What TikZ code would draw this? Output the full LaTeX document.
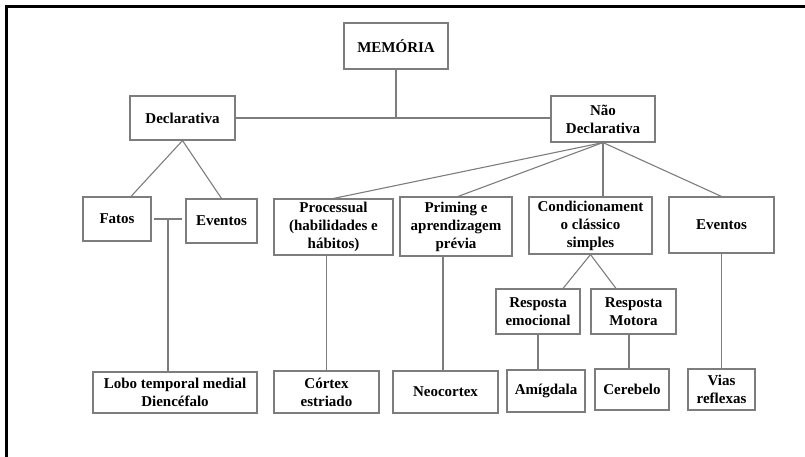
\documentclass[tikz,border=0pt]{standalone}
\usepackage{fontspec}
\setmainfont{Liberation Serif}
\usetikzlibrary{calc}
\definecolor{linegray}{RGB}{125,125,125}
\begin{document}
\begin{tikzpicture}[x=1pt,y=-1pt,
  box/.style={draw=linegray, line width=1.1pt, fill=white, align=center, inner sep=0pt,
    font=\fontsize{15}{18}\selectfont\bfseries},
  conn/.style={draw=linegray, line width=1.1pt}]
\useasboundingbox (0,0) rectangle (805,457);
\draw[line width=3pt, line cap=rect] (805,6.5) -- (6.5,6.5) -- (6.5,457);

\node[box, minimum width=104pt, minimum height=46pt] (mem) at (396,46) {MEMÓRIA};
\node[box, minimum width=105pt, minimum height=44pt] (decl) at (182.5,118) {Declarativa};
\node[box, minimum width=104pt, minimum height=46pt] (nao) at (603,119) {Não\\Declarativa};

\node[box, minimum width=68pt, minimum height=44pt] (fatos) at (117,219) {Fatos};
\node[box, minimum width=71pt, minimum height=44pt] (ev1) at (221.5,221) {Eventos};
\node[box, minimum width=119pt, minimum height=56pt] (proc) at (333.5,227) {Processual\\(habilidades e\\hábitos)};
\node[box, minimum width=112pt, minimum height=59pt] (prim) at (456,226.5) {Priming e\\aprendizagem\\prévia};
\node[box, minimum width=123pt, minimum height=57pt] (cond) at (590.5,225.5) {Condicionament\\o clássico\\simples};
\node[box, minimum width=105pt, minimum height=56pt] (ev2) at (721.5,225) {Eventos};

\node[box, minimum width=84pt, minimum height=45pt] (remo) at (538,311.5) {Resposta\\emocional};
\node[box, minimum width=85pt, minimum height=45pt] (rmot) at (633.5,311.5) {Resposta\\Motora};

\node[box, minimum width=164pt, minimum height=41pt] (lobo) at (175,392.5) {Lobo temporal medial\\Diencéfalo};
\node[box, minimum width=105pt, minimum height=42pt] (cort) at (326.5,392) {Córtex\\estriado};
\node[box, minimum width=105pt, minimum height=42pt] (neo) at (445.5,392) {Neocortex};
\node[box, minimum width=78pt, minimum height=42pt] (amig) at (546,391) {Amígdala};
\node[box, minimum width=74pt, minimum height=41pt] (cereb) at (632,389.5) {Cerebelo};
\node[box, minimum width=67pt, minimum height=41pt] (vias) at (721.5,389.5) {Vias\\reflexas};

% top level
\draw[conn] (decl.east) -- (decl.east -| nao.west);
\draw[conn] (mem.south) -- (mem.south |- decl.east);

% declarativa
\draw[conn] (decl.south) -- ($(fatos.north)+(14,0)$);
\draw[conn] (decl.south) -- (ev1.north);
\coordinate (fe1) at ($(fatos.east)+(2,0)$);
\coordinate (fe2) at ($(ev1.west |- fatos.east)+(-3,0)$);
\draw[conn] (fe1) -- (fe2);
\coordinate (fj) at (168,219);
\draw[conn] (fj) -- (fj |- lobo.north);

% nao declarativa
\draw[conn] (nao.south) -- (proc.north);
\draw[conn] (nao.south) -- ($(prim.north)+(2,0)$);
\draw[conn] (nao.south) -- (nao.south |- cond.north);
\draw[conn] (nao.south) -- (ev2.north);

% condicionamento
\draw[conn] (cond.south) -- ($(remo.north)+(25,0)$);
\draw[conn] (cond.south) -- ($(rmot.north)+(-17.5,0)$);

% vertical links to bottom row
\draw[conn] (cort.north) -- (cort.north |- proc.south);
\draw[conn] ($(neo.north)+(-2.5,0)$) -- ($(neo.north |- prim.south)+(-2.5,0)$);
\draw[conn] (ev2.south) -- (vias.north);
\draw[conn] (remo.south) -- (remo.south |- amig.north);
\draw[conn] ($(cereb.north)+(-3,0)$) -- ($(cereb.north |- rmot.south)+(-3,0)$);
\end{tikzpicture}
\end{document}
